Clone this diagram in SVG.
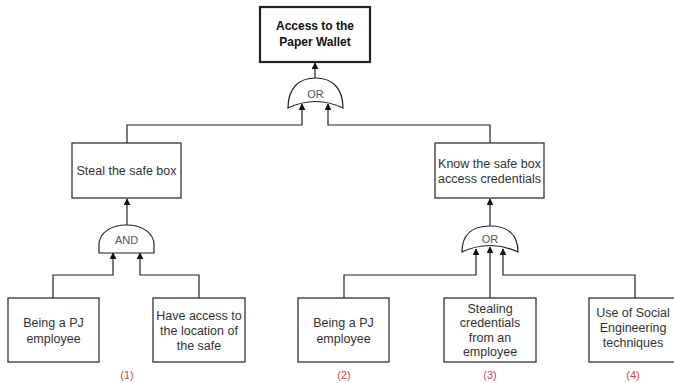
<svg xmlns="http://www.w3.org/2000/svg" width="674" height="383" viewBox="0 0 674 383">
<style>
.box{fill:#fff;stroke:#222;stroke-width:1.2}
.top{fill:#fff;stroke:#222;stroke-width:2.2}
.gate{fill:#fff;stroke:#222;stroke-width:1.2}
.t{font-family:"Liberation Sans",Arial,sans-serif;font-size:12.5px;fill:#333;text-anchor:middle}
.tb{font-family:"Liberation Sans",Arial,sans-serif;font-size:12px;font-weight:bold;fill:#111;text-anchor:middle}
.g{font-family:"Liberation Sans",Arial,sans-serif;font-size:11px;fill:#555;text-anchor:middle}
.lbl{font-family:"Liberation Sans",Arial,sans-serif;font-size:11px;fill:#d64545;text-anchor:middle}
.c{fill:none;stroke:#222;stroke-width:1.2;marker-end:url(#ah)}
</style>
<defs>
<marker id="ah" viewBox="0 0 10 10" refX="9" refY="5" markerWidth="7" markerHeight="7" markerUnits="userSpaceOnUse" orient="auto">
<path d="M0,0 L10,5 L0,10 Z" fill="#111"/>
</marker>
</defs>
<rect width="674" height="383" fill="#fff"/>
<g id="connectors">
<path class="c" d="M315,78 V63"/>
<path class="c" d="M127,143 V125 H302 V104"/>
<path class="c" d="M490,143 V125 H328 V104"/>
<path class="c" d="M127,225 V199"/>
<path class="c" d="M53,298 V275 H113 V253"/>
<path class="c" d="M199,298 V275 H140 V253"/>
<path class="c" d="M490,226 V199"/>
<path class="c" d="M344,298 V275 H476 V249"/>
<path class="c" d="M490,298 V247"/>
<path class="c" d="M635,298 V275 H503 V249"/>
</g>
<g id="root">
<rect class="top" x="260" y="7" width="110" height="55"/>
<text class="tb" x="315" y="30">Access to the</text>
<text class="tb" x="315" y="46">Paper Wallet</text>
</g>
<g id="or-top">
<path class="gate" d="M288,108 C288,88 299,78 315.5,78 C332,78 343,88 343,108 Q315.5,95 288,108 Z"/>
<text class="g" x="315.5" y="98">OR</text>
</g>
<g id="steal">
<rect class="box" x="72" y="143" width="109" height="55"/>
<text class="t" x="126.5" y="175">Steal the safe box</text>
</g>
<g id="know">
<rect class="box" x="435" y="143" width="109" height="55"/>
<text class="t" x="489.5" y="168">Know the safe box</text>
<text class="t" x="489.5" y="183">access credentials</text>
</g>
<g id="and-gate">
<path class="gate" d="M99,253 V245 C99,232 112,225 126.5,225 C141,225 154,232 154,245 V253 Z"/>
<text class="g" x="126.5" y="244">AND</text>
</g>
<g id="or-right">
<path class="gate" d="M462,252 C462,234 473,226 490,226 C507,226 518,234 518,252 Q490,239 462,252 Z"/>
<text class="g" x="490" y="243">OR</text>
</g>
<g id="leaf1">
<rect class="box" x="8" y="298" width="91" height="64"/>
<text class="t" x="53.5" y="327">Being a PJ</text>
<text class="t" x="53.5" y="343">employee</text>
</g>
<g id="leaf2">
<rect class="box" x="153" y="298" width="92" height="64"/>
<text class="t" x="199" y="320">Have access to</text>
<text class="t" x="199" y="335">the location of</text>
<text class="t" x="199" y="350">the safe</text>
</g>
<g id="leaf3">
<rect class="box" x="298" y="298" width="91" height="64"/>
<text class="t" x="343.5" y="327">Being a PJ</text>
<text class="t" x="343.5" y="343">employee</text>
</g>
<g id="leaf4">
<rect class="box" x="444" y="298" width="92" height="64"/>
<text class="t" x="490" y="313">Stealing</text>
<text class="t" x="490" y="327">credentials</text>
<text class="t" x="490" y="342">from an</text>
<text class="t" x="490" y="356">employee</text>
</g>
<g id="leaf5">
<rect class="box" x="589" y="298" width="91" height="64"/>
<text class="t" x="633" y="317">Use of Social</text>
<text class="t" x="633" y="332">Engineering</text>
<text class="t" x="633" y="347">techniques</text>
</g>
<g id="labels">
<text class="lbl" x="127" y="379">(1)</text>
<text class="lbl" x="344" y="379">(2)</text>
<text class="lbl" x="490" y="379">(3)</text>
<text class="lbl" x="633" y="379">(4)</text>
</g>
</svg>
